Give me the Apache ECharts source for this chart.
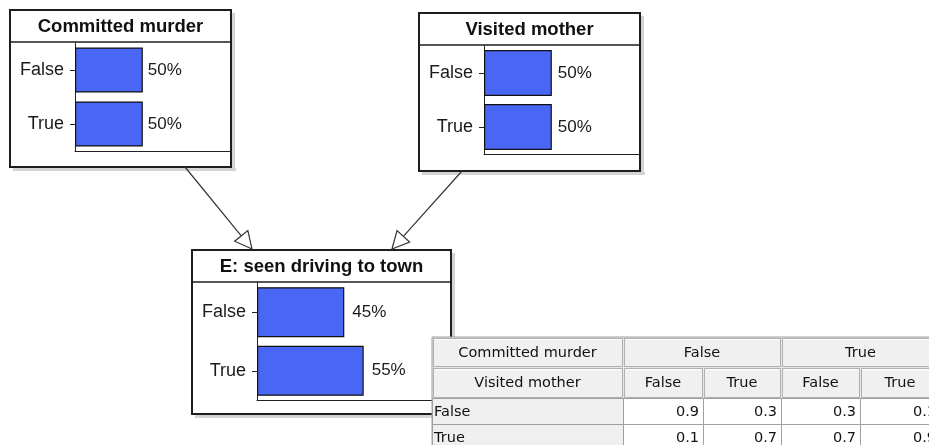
<!DOCTYPE html>
<html>
<head>
<meta charset="utf-8">
<style>
  html, body { margin: 0; padding: 0; background: #fff; }
  #chart { width: 929px; height: 445px; }
</style>
<script src="https://cdn.jsdelivr.net/npm/echarts@6/dist/echarts.min.js"></script>
</head>
<body>
<div id="chart"></div>
<script>
// node states and beliefs (%)
const states = ['False', 'True']
const murderBelief = [50, 50]
const motherBelief = [50, 50]
const seenBelief = [45, 55]

// conditional probability table of "E: seen driving to town"
const cptMurderHeader = ['False', 'True']
const cptMotherHeader = ['False', 'True', 'False', 'True']
const cptFalseRow = [0.9, 0.3, 0.3, 0.1]
const cptTrueRow = [0.1, 0.7, 0.7, 0.9]

const W = 929
const H = 445
const FONT = '"Liberation Sans", Arial, sans-serif'
const TFONT = '"DejaVu Sans", sans-serif'

// box = [x, y, w, h]
const nodes = [
  { title: 'Committed murder', values: murderBelief, box: [10, 10, 221, 157], axisX: 75, axisY: 151, max: 115, barWidth: 45, gap: 5 },
  { title: 'Visited mother', values: motherBelief, box: [419, 13, 221, 158], axisX: 484, axisY: 154, max: 115, barWidth: 46, gap: 6 },
  { title: 'E: seen driving to town', values: seenBelief, box: [192, 250, 259, 164], axisX: 257, axisY: 400, max: 100, barWidth: 50, gap: 8 }
]
const HEAD = 32

const chart = echarts.init(document.getElementById('chart'))

const grids = []
const xAxes = []
const yAxes = []
const series = []
const graphics = []

nodes.forEach((n, i) => {
  const [bx, by, bw, bh] = n.box
  grids.push({
    left: n.axisX,
    top: by + HEAD + 1,
    right: W - (bx + bw),
    bottom: H - n.axisY
  })
  xAxes.push({
    gridIndex: i,
    type: 'value',
    min: 0,
    max: n.max,
    axisLine: { show: true, lineStyle: { color: '#222', width: 1 } },
    axisTick: { show: false },
    axisLabel: { show: false },
    splitLine: { show: false }
  })
  yAxes.push({
    gridIndex: i,
    type: 'category',
    data: states,
    inverse: true,
    axisLine: { show: true, lineStyle: { color: '#222', width: 1 } },
    axisTick: { show: true, length: 5, alignWithLabel: true, lineStyle: { color: '#222' } },
    axisLabel: { margin: 11, fontSize: 18, color: '#1a1a1a', fontFamily: FONT }
  })
  series.push({
    type: 'bar',
    xAxisIndex: i,
    yAxisIndex: i,
    data: n.values,
    barWidth: n.barWidth,
    itemStyle: { color: '#4a66f5', borderColor: '#111', borderWidth: 1.2 },
    label: {
      show: true,
      position: 'right',
      distance: n.gap,
      formatter: '{c}%',
      fontSize: 17,
      color: '#1a1a1a',
      fontFamily: FONT
    },
    emphasis: { disabled: true },
    animation: false
  })

  // box, shadow, title
  graphics.push(
    { type: 'rect', shape: { x: bx + bw + 1, y: by + 3, width: 3, height: bh + 1 }, style: { fill: '#d4d4d4' } },
    { type: 'rect', shape: { x: bx + 3, y: by + bh + 1, width: bw + 2, height: 3 }, style: { fill: '#d4d4d4' } },
    { type: 'rect', shape: { x: bx, y: by, width: bw, height: bh }, style: { fill: 'transparent', stroke: '#1e1e1e', lineWidth: 2 } },
    { type: 'line', shape: { x1: bx, y1: by + HEAD, x2: bx + bw, y2: by + HEAD }, style: { stroke: '#1e1e1e', lineWidth: 1.5 } },
    {
      type: 'text',
      style: {
        text: n.title,
        x: bx + bw / 2,
        y: by + HEAD / 2 + 1,
        textAlign: 'center',
        textVerticalAlign: 'middle',
        font: 'bold 18.5px ' + FONT,
        fill: '#111'
      }
    }
  )
})

// arrows from parents to child
function arrow(x1, y1, x2, y2) {
  const len = 17, half = 8.5
  const d = Math.hypot(x2 - x1, y2 - y1)
  const ux = (x2 - x1) / d, uy = (y2 - y1) / d
  const bx = x2 - ux * len, by = y2 - uy * len
  return [
    { type: 'line', shape: { x1: x1, y1: y1, x2: bx, y2: by }, style: { stroke: '#333', lineWidth: 1.2 } },
    {
      type: 'polygon',
      shape: { points: [[x2, y2], [bx - uy * half, by + ux * half], [bx + uy * half, by - ux * half]] },
      style: { fill: '#fff', stroke: '#333', lineWidth: 1.2 }
    }
  ]
}
graphics.push(...arrow(185, 167, 252, 249), ...arrow(462, 171, 392, 249))

// CPT table
const cols = [432, 623, 703, 781, 860, 940]
const rows = [337, 367, 398, 424, 450]
const TZ = 100
graphics.push({
  type: 'rect', z: TZ,
  shape: { x: cols[0], y: rows[0], width: cols[5] - cols[0], height: rows[4] - rows[0] },
  style: { fill: '#e6e6e6', stroke: '#a0a0a0', lineWidth: 1 }
})
function headerCell(c0, c1, r, text) {
  const x = cols[c0], y = rows[r], w = cols[c1] - x, h = rows[r + 1] - y
  graphics.push(
    { type: 'rect', z: TZ, shape: { x: x + 1.5, y: y + 1.5, width: w - 2, height: h - 2 }, style: { fill: '#f0f0f0', stroke: '#b0b0b0', lineWidth: 1 } },
    { type: 'line', z: TZ, shape: { x1: x + 2.5, y1: y + 2.5, x2: x + w - 1.5, y2: y + 2.5 }, style: { stroke: '#fff', lineWidth: 1 } },
    {
      type: 'text', z: TZ + 1,
      style: { text: text, x: x + w / 2, y: y + h / 2 + 1, textAlign: 'center', textVerticalAlign: 'middle', font: '14.5px ' + TFONT, fill: '#111' }
    }
  )
}
headerCell(0, 1, 0, 'Committed murder')
cptMurderHeader.forEach((t, k) => headerCell(1 + k * 2, 3 + k * 2, 0, t))
headerCell(0, 1, 1, 'Visited mother')
cptMotherHeader.forEach((t, k) => headerCell(1 + k, 2 + k, 1, t))

function dataRow(r, label, vals) {
  const y = rows[r], h = rows[r + 1] - y
  graphics.push(
    { type: 'rect', z: TZ, shape: { x: cols[0] + 0.5, y: y + 0.5, width: cols[1] - cols[0], height: h }, style: { fill: '#f0f0f0', stroke: '#a0a0a0', lineWidth: 1 } },
    { type: 'text', z: TZ + 1, style: { text: label, x: cols[0] + 2, y: y + h / 2 + 1, textAlign: 'left', textVerticalAlign: 'middle', font: '14.5px ' + TFONT, fill: '#111' } }
  )
  vals.forEach((v, k) => {
    const x = cols[1 + k], w = cols[2 + k] - x
    graphics.push(
      { type: 'rect', z: TZ, shape: { x: x + 0.5, y: y + 0.5, width: w, height: h }, style: { fill: '#fff', stroke: '#a0a0a0', lineWidth: 1 } },
      { type: 'text', z: TZ + 1, style: { text: v.toFixed(1), x: x + w - 4, y: y + h / 2 + 1, textAlign: 'right', textVerticalAlign: 'middle', font: '14.5px ' + TFONT, fill: '#111' } }
    )
  })
}
dataRow(2, states[0], cptFalseRow)
dataRow(3, states[1], cptTrueRow)

chart.setOption({
  animation: false,
  grid: grids,
  xAxis: xAxes,
  yAxis: yAxes,
  series: series,
  graphic: { elements: graphics }
})
</script>
</body>
</html>
